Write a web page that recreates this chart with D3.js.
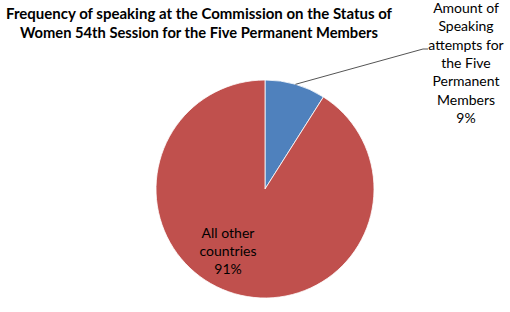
<!DOCTYPE html>
<html>
<head>
<meta charset="utf-8">
<script src="https://cdn.jsdelivr.net/npm/d3@7"></script>
<style>
  body { margin: 0; background: #fff; }
  text { font-family: Lato, "Open Sans", sans-serif; fill: #000; }
</style>
</head>
<body>
<svg id="chart" width="510" height="312"></svg>
<script>
// chart data
const categories = ["Amount of Speaking attempts for the Five Permanent Members", "All other countries"];
const shares = [9, 91];
const sliceColors = ["#4F81BD", "#C0504D"];
const titleLines = ["Frequency of speaking at the Commission on the Status of",
                    "Women 54th Session for the Five Permanent Members"];
const labelLines = [
    ["Amount of", "Speaking", "attempts for", "the Five", "Permanent", "Members", "9%"],
    ["All other", "countries", "91%"]
];

const svg = d3.select("#chart");
const cx = 265, cy = 189, r = 109;

// title, squeezed to the widths of the original lines
const titleWidths = [386, 358];
svg.append("g").selectAll("text")
    .data(titleLines)
    .join("text")
    .attr("x", 199)
    .attr("y", (d, i) => 19 + i * 19)
    .attr("text-anchor", "middle")
    .attr("textLength", (d, i) => titleWidths[i])
    .attr("lengthAdjust", "spacingAndGlyphs")
    .style("font-size", "16px")
    .style("font-weight", "bold")
    .text(d => d);

const pie = d3.pie().sort(null).value(d => d);
const arc = d3.arc().innerRadius(0).outerRadius(r);
const arcs = pie(shares);

const g = svg.append("g").attr("transform", "translate(" + cx + "," + cy + ")");
g.selectAll("path")
    .data(arcs)
    .join("path")
    .attr("d", arc)
    .attr("fill", (d, i) => sliceColors[i])
    .attr("stroke", "#fff")
    .attr("stroke-width", 0.8);

// leader line for the small slice
const edge = d3.arc().innerRadius(r).outerRadius(r);
const p0 = edge.centroid(arcs[0]);
svg.append("polyline")
    .attr("points", [[cx + p0[0], cy + p0[1]], [423, 49], [428, 49]].map(p => p.join(",")).join(" "))
    .attr("fill", "none")
    .attr("stroke", "#555")
    .attr("stroke-width", 1);

// outside label
svg.append("g").selectAll("text")
    .data(labelLines[0])
    .join("text")
    .attr("x", 466)
    .attr("y", (d, i) => 13 + i * 18.3)
    .attr("text-anchor", "middle")
    .style("font-size", "14px")
    .text(d => d);

// inside label
svg.append("g").selectAll("text")
    .data(labelLines[1])
    .join("text")
    .attr("x", 228)
    .attr("y", (d, i) => 238 + i * 18)
    .attr("text-anchor", "middle")
    .style("font-size", "14px")
    .text(d => d);
</script>
</body>
</html>
